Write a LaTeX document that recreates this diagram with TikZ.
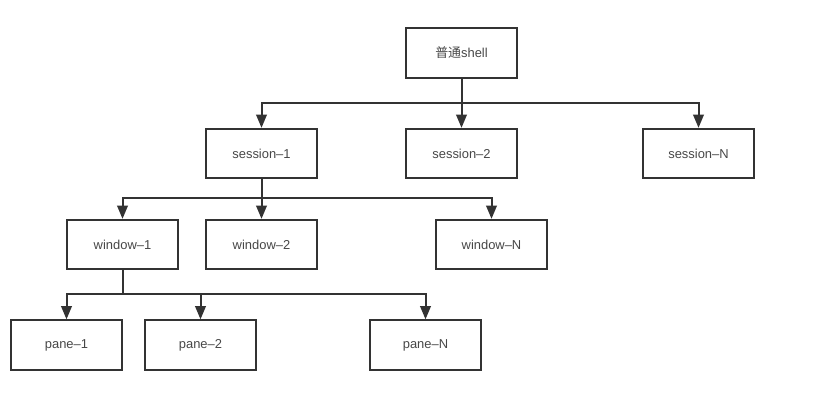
\documentclass[tikz,border=0pt]{standalone}
\usepackage{fontspec}
\setmainfont{Liberation Sans}
\newfontfamily\cjk{Noto Sans CJK SC}
\usetikzlibrary{arrows.meta}
\definecolor{ink}{HTML}{333333}

\begin{document}
\begin{tikzpicture}[x=0.75pt,y=-0.75pt,
   font=\fontsize{9.7}{11}\selectfont,
   box/.style={draw=ink,line width=1.5pt,text=ink!90,minimum width=83pt,minimum height=37pt,inner sep=1pt},
   link/.style={draw=ink,line width=1.5pt},
   arr/.style={link,-{Triangle[length=10pt,width=8pt]}}]
  \useasboundingbox (0,0) rectangle (828,408);
  % boxes
  \node[box] (shell) at (461.5,53)    {{\cjk 普通}shell};
  \node[box] (s1)    at (261.5,153.5) {session–1};
  \node[box] (s2)    at (461.5,153.5) {session–2};
  \node[box] (sN)    at (698.5,153.5) {session–N};
  \node[box] (w1)    at (122.5,244.5) {window–1};
  \node[box] (w2)    at (261.5,244.5) {window–2};
  \node[box] (wN)    at (491.5,244.5) {window–N};
  \node[box] (p1)    at (66.5,345)    {pane–1};
  \node[box] (p2)    at (200.5,345)   {pane–2};
  \node[box] (pN)    at (425.5,345)   {pane–N};
  % junctions
  \coordinate (j1) at (461.5,103);
  \coordinate (j2) at (261.5,198);
  \coordinate (j3) at (122.5,294);
  % connectors
  \draw[link] (shell.south) -- (j1);
  \draw[arr] (j1) -| (s1.north);
  \draw[arr] (j1) -- (s2.north);
  \draw[arr] (j1) -| (sN.north);
  \draw[link] (s1.south) -- (j2);
  \draw[arr] (j2) -| (w1.north);
  \draw[arr] (j2) -- (w2.north);
  \draw[arr] (j2) -| (wN.north);
  \draw[link] (w1.south) -- (j3);
  \draw[arr] (j3) -| (p1.north);
  \draw[arr] (j3) -| (p2.north);
  \draw[arr] (j3) -| (pN.north);
\end{tikzpicture}
\end{document}
